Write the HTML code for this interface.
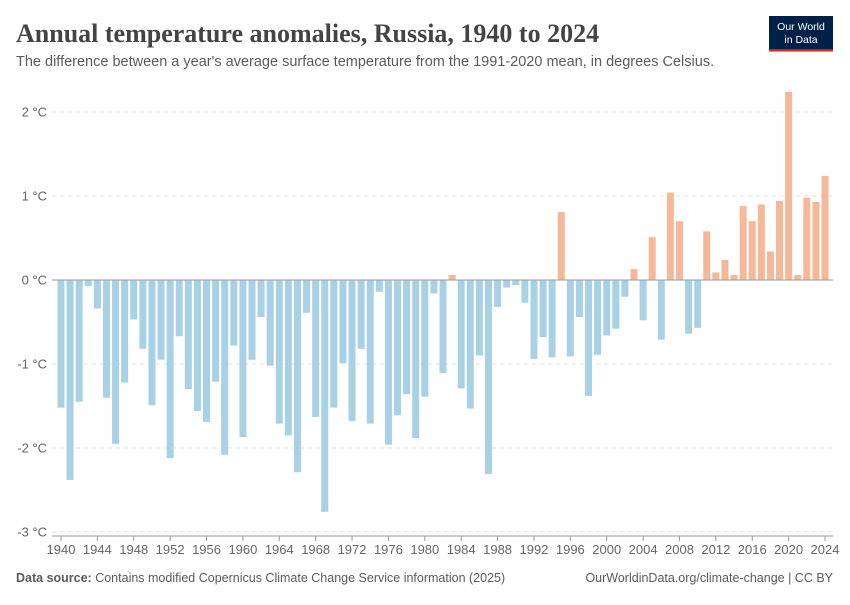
<!DOCTYPE html>
<html><head><meta charset="utf-8"><style>
body{margin:0;background:#fff;}
svg text{font-family:"Liberation Sans",sans-serif;}
</style></head><body>
<svg width="850" height="600" viewBox="0 0 850 600" xmlns="http://www.w3.org/2000/svg">
<text x="16" y="42" font-size="26" font-weight="bold" fill="#444" style="font-family:'Liberation Serif',serif">Annual temperature anomalies, Russia, 1940 to 2024</text>
<text x="16" y="66" font-size="14.5" fill="#5b5b5b">The difference between a year's average surface temperature from the 1991-2020 mean, in degrees Celsius.</text>
<g>
<rect x="769" y="16" width="64" height="35" fill="#002147"/>
<rect x="769" y="49" width="64" height="2.5" fill="#ce261e"/>
<text x="801" y="30" font-size="10.5" fill="#fff" text-anchor="middle">Our World</text>
<text x="801" y="43" font-size="10.5" fill="#fff" text-anchor="middle">in Data</text>
</g>
<g id="grid"></g>
<g id="bars"></g>
<g id="xt"></g>
<text x="16" y="582" font-size="12.5" fill="#5b5b5b"><tspan font-weight="bold">Data source:</tspan> Contains modified Copernicus Climate Change Service information (2025)</text>
<text x="833" y="582" font-size="12.5" fill="#5b5b5b" text-anchor="end">OurWorldinData.org/climate-change | CC BY</text>
</svg>
<script>
const years=[];for(let y=1940;y<=2024;y++)years.push(y);
const values=[-1.52,-2.38,-1.45,-0.07,-0.34,-1.40,-1.95,-1.22,-0.47,-0.82,-1.49,-0.95,-2.12,-0.67,-1.30,-1.56,-1.69,-1.21,-2.08,-0.78,-1.87,-0.95,-0.44,-1.02,-1.71,-1.85,-2.29,-0.39,-1.63,-2.76,-1.52,-0.99,-1.68,-0.82,-1.71,-0.14,-1.96,-1.61,-1.36,-1.88,-1.39,-0.16,-1.11,0.06,-1.29,-1.53,-0.90,-2.31,-0.32,-0.09,-0.06,-0.27,-0.94,-0.68,-0.92,0.81,-0.91,-0.44,-1.38,-0.89,-0.66,-0.58,-0.20,0.13,-0.48,0.51,-0.71,1.04,0.70,-0.64,-0.57,0.58,0.09,0.24,0.06,0.88,0.70,0.90,0.34,0.94,2.24,0.06,0.98,0.93,1.24];
const yTicks=[2,1,0,-1,-2,-3];
const xTickYears=[1940,1944,1948,1952,1956,1960,1964,1968,1972,1976,1980,1984,1988,1992,1996,2000,2004,2008,2012,2016,2020,2024];
const NS="http://www.w3.org/2000/svg";
const yS=v=>280-v*84;
const xS=y=>61+(y-1940)*(764/84);
function mk(t,a,p){const e=document.createElementNS(NS,t);for(const k in a)e.setAttribute(k,a[k]);p.appendChild(e);return e;}
const grid=document.getElementById('grid');
yTicks.forEach(v=>{
 if(v!==0){const l=mk('line',{x1:52,x2:833,y1:yS(v),y2:yS(v),stroke:'#ddd','stroke-dasharray':'4,4'},grid);
 
 }
 const t=mk('text',{x:47,y:yS(v)+4.5,'font-size':13,fill:'#666','text-anchor':'end'},grid);
 t.textContent=v+' °C';
 
 
});
const bars=document.getElementById('bars');
years.forEach((y,i)=>{
 const v=values[i];const x=xS(y);
 const r=mk('rect',{x:x-3.5,width:7,y:Math.min(yS(v),280),height:Math.abs(yS(v)-280),fill:v>=0?'#f5b899':'#a9d1e5'},bars);
 
 
});
const z=mk('line',{x1:52,x2:833,y1:280,y2:280,stroke:'#999','stroke-width':1},bars);


const xt=document.getElementById('xt');
const ax=mk('line',{x1:52,x2:833,y1:536,y2:536,stroke:'#999'},xt);


xTickYears.forEach(y=>{
 const tk=mk('line',{x1:xS(y),x2:xS(y),y1:536,y2:541,stroke:'#999'},xt);
 
 
 const t=mk('text',{x:xS(y),y:554,'font-size':13,fill:'#666','text-anchor':'middle'},xt);
 t.textContent=y;
 
 
});
</script>
</body></html>
